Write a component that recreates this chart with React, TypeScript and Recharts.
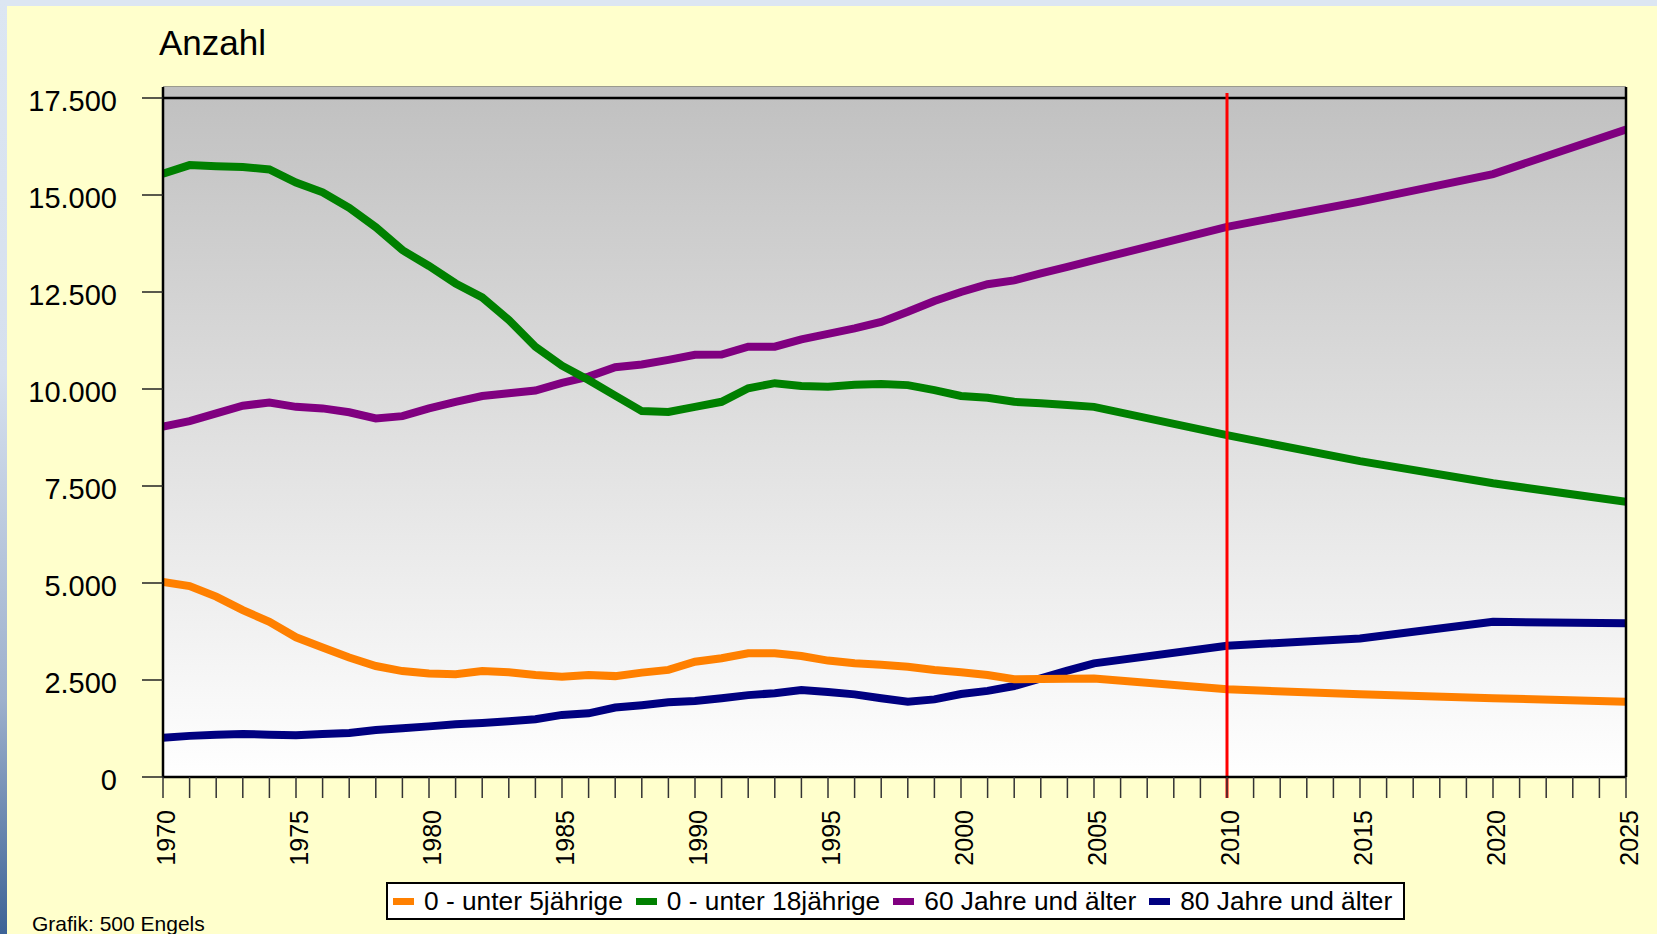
import React from 'react';
import { LineChart, Line, XAxis, YAxis, CartesianGrid, ReferenceLine, ReferenceArea } from 'recharts';

const years = [1970, 1971, 1972, 1973, 1974, 1975, 1976, 1977, 1978, 1979, 1980, 1981, 1982, 1983, 1984, 1985, 1986, 1987, 1988, 1989, 1990, 1991, 1992, 1993, 1994, 1995, 1996, 1997, 1998, 1999, 2000, 2001, 2002, 2003, 2004, 2005, 2010, 2015, 2020, 2025];

const under5 = [5030, 4920, 4650, 4300, 4000, 3600, 3340, 3080, 2860, 2730, 2670, 2650, 2730, 2700, 2630, 2585, 2630, 2600, 2690, 2760, 2970, 3060, 3190, 3190, 3120, 3000, 2930, 2890, 2840, 2760, 2700, 2630, 2520, 2525, 2535, 2540, 2260, 2130, 2030, 1940];

const under18 = [15550, 15770, 15740, 15720, 15660, 15320, 15070, 14670, 14170, 13580, 13170, 12720, 12360, 11780, 11090, 10600, 10230, 9830, 9430, 9410, 9540, 9670, 10020, 10150, 10080, 10060, 10110, 10130, 10100, 9970, 9820, 9775, 9670, 9630, 9590, 9540, 8810, 8140, 7570, 7090];

const over60 = [9030, 9170, 9370, 9570, 9650, 9540, 9500, 9400, 9240, 9300, 9500, 9670, 9820, 9890, 9960, 10160, 10320, 10560, 10630, 10750, 10880, 10890, 11090, 11090, 11280, 11420, 11560, 11730, 11990, 12270, 12500, 12700, 12800, 12980, 13150, 13320, 14180, 14830, 15540, 16690];

const over80 = [1010, 1060, 1090, 1110, 1090, 1075, 1110, 1135, 1210, 1255, 1305, 1360, 1390, 1435, 1490, 1600, 1640, 1790, 1850, 1925, 1960, 2030, 2110, 2160, 2240, 2190, 2130, 2030, 1940, 2000, 2140, 2220, 2345, 2540, 2740, 2930, 3380, 3570, 4000, 3960];

const yTicks = [0, 2500, 5000, 7500, 10000, 12500, 15000, 17500];
const xTicks = [1970, 1971, 1972, 1973, 1974, 1975, 1976, 1977, 1978, 1979, 1980, 1981, 1982, 1983, 1984, 1985, 1986, 1987, 1988, 1989, 1990, 1991, 1992, 1993, 1994, 1995, 1996, 1997, 1998, 1999, 2000, 2001, 2002, 2003, 2004, 2005, 2006, 2007, 2008, 2009, 2010, 2011, 2012, 2013, 2014, 2015, 2016, 2017, 2018, 2019, 2020, 2021, 2022, 2023, 2024, 2025];
const xLabelYears = [1970, 1975, 1980, 1985, 1990, 1995, 2000, 2005, 2010, 2015, 2020, 2025];
const markerYear = 2010;
const xMin = 1970;
const xMax = 2025;
const yMax = 17500;

const seriesKeys = ['u5', 'u18', 'o60', 'o80'];
const seriesNames = ['0 - unter 5jährige', '0 - unter 18jährige', '60 Jahre und älter', '80 Jahre und älter'];
const seriesColors = ['#FF8000', '#008000', '#800080', '#000080'];

const title = 'Anzahl';
const credit = 'Grafik: 500 Engels';

const data = years.map((year, i) => ({
  year,
  u5: under5[i],
  u18: under18[i],
  o60: over60[i],
  o80: over80[i],
}));

const FONT = "'Liberation Sans', Arial, Helvetica, sans-serif";

// layout (pixels)
const W = 1657;
const H = 934;
const PLOT_LEFT = 163;
const PLOT_RIGHT = 1626;
const PLOT_TOP = 87;
const PLOT_BOTTOM = 777;
const TOP_BAND = 11; // grey band of the plot area above the top border

const PANEL = '#FFFFCC';

const fmt = (v: number) => String(v).replace(/\B(?=(\d{3})+(?!\d))/g, '.');

const YTick = (props: any) => {
  const { x, y, payload } = props;
  return (
    <text x={x} y={y + 13} textAnchor="end" fontSize={29} fill="#000" fontFamily={FONT}>
      {fmt(payload.value)}
    </text>
  );
};

const XTick = (props: any) => {
  const { x, y, payload } = props;
  if (!xLabelYears.includes(payload.value)) return <g />;
  const bx = x + 12;
  return (
    <text
      x={bx}
      y={y}
      transform={`rotate(-90 ${bx} ${y})`}
      textAnchor="end"
      fontSize={25}
      fill="#000"
      fontFamily={FONT}
    >
      {payload.value}
    </text>
  );
};

const RedLine = (props: any) => {
  const { x1, y1, x2, y2 } = props;
  const top = Math.min(y1, y2);
  const bottom = Math.max(y1, y2);
  return <line x1={x1} y1={top + 6} x2={x2} y2={bottom + 21} stroke="#FF0000" strokeWidth={3} />;
};

const BorderLine = (props: any) => {
  const { x1, y1, x2, y2 } = props;
  return <line x1={x1} y1={y1} x2={x2} y2={y2} stroke="#000" strokeWidth={2.5} />;
};

export default function App() {
  const drawOrder = [3, 2, 1, 0];
  return (
    <div
      style={{
        position: 'absolute',
        left: 0,
        top: 0,
        width: W,
        height: H,
        overflow: 'hidden',
        background: '#DCE6F2',
        fontFamily: FONT,
      }}
    >
      <style>{'html,body{margin:0;padding:0;overflow:hidden;}'}</style>
      <div
        style={{
          position: 'absolute',
          left: 0,
          top: 0,
          width: 7,
          height: H,
          background: 'linear-gradient(to bottom, #DCE6F2 0%, #D6E0EE 40%, #9DB0CC 75%, #3D6396 100%)',
        }}
      />
      <div
        style={{
          position: 'absolute',
          left: 7,
          top: 6,
          width: W - 7,
          height: H - 6,
          background: PANEL,
        }}
      />
      <div style={{ position: 'absolute', left: 0, top: 0, width: W, height: H }}>
        <LineChart
          width={W}
          height={H}
          data={data}
          margin={{ top: PLOT_TOP, right: W - PLOT_RIGHT, bottom: 57, left: 0 }}
        >
          <defs>
            <linearGradient id="plotBg" x1="0" y1="0" x2="0" y2="1">
              <stop offset="0" stopColor="#C0C0C0" />
              <stop offset="1" stopColor="#FFFFFF" />
            </linearGradient>
          </defs>
          <XAxis
            dataKey="year"
            type="number"
            domain={[xMin, xMax]}
            ticks={xTicks}
            interval={0}
            tickSize={21}
            tickMargin={12}
            height={100}
            tick={<XTick />}
            tickLine={{ stroke: '#333', strokeWidth: 1.5 }}
            axisLine={{ stroke: '#000', strokeWidth: 2.5 }}
            allowDecimals={false}
            allowDataOverflow
          />
          <YAxis
            type="number"
            domain={[0, yMax]}
            ticks={yTicks}
            interval={0}
            width={PLOT_LEFT}
            tickSize={21}
            tickMargin={25}
            padding={{ top: TOP_BAND }}
            tick={<YTick />}
            tickLine={{ stroke: '#222', strokeWidth: 1.5 }}
            axisLine={{ stroke: '#000', strokeWidth: 2.5 }}
            allowDataOverflow
          />
          <ReferenceArea
            x1={xMin}
            x2={xMax}
            fill="url(#plotBg)"
            fillOpacity={1}
            stroke="none"
            ifOverflow="visible"
            shape={(p: any) => (
              <rect
                x={p.x}
                y={PLOT_TOP}
                width={p.width}
                height={PLOT_BOTTOM - PLOT_TOP}
                fill="url(#plotBg)"
              />
            )}
          />
          <CartesianGrid vertical={false} stroke="#7A7A7A" strokeWidth={1.5} fill="none" />
          {drawOrder.map((i) => (
            <Line
              key={seriesKeys[i]}
              type="linear"
              dataKey={seriesKeys[i]}
              name={seriesNames[i]}
              stroke={seriesColors[i]}
              strokeWidth={8}
              dot={false}
              activeDot={false}
              isAnimationActive={false}
            />
          ))}
          <ReferenceLine y={yMax} ifOverflow="visible" shape={<BorderLine />} />
          <ReferenceLine x={xMax} ifOverflow="visible" shape={<BorderLine />} />
          <ReferenceLine x={markerYear} ifOverflow="visible" shape={<RedLine />} />
        </LineChart>
      </div>
      {/* panel colour to the right of the plot area */}
      <div
        style={{
          position: 'absolute',
          left: PLOT_RIGHT + 2,
          top: 6,
          width: W - PLOT_RIGHT - 2,
          height: PLOT_BOTTOM + 15,
          background: PANEL,
        }}
      />
      <div
        style={{
          position: 'absolute',
          left: 159,
          top: 21,
          fontSize: 35,
          lineHeight: '44px',
          color: '#000',
          whiteSpace: 'nowrap',
        }}
      >
        {title}
      </div>
      <div
        style={{
          position: 'absolute',
          left: 386,
          top: 882,
          width: 1019,
          height: 38,
          boxSizing: 'border-box',
          border: '2px solid #000',
          background: '#FFFFFF',
          display: 'flex',
          alignItems: 'center',
          paddingLeft: 5,
          whiteSpace: 'nowrap',
        }}
      >
        {seriesNames.map((name, i) => (
          <div key={name} style={{ display: 'flex', alignItems: 'center', marginRight: 13 }}>
            <div style={{ width: 21, height: 7, background: seriesColors[i], marginRight: 10 }} />
            <span style={{ fontSize: 26.3, lineHeight: '30px', color: '#000' }}>{name}</span>
          </div>
        ))}
      </div>
      <div
        style={{
          position: 'absolute',
          left: 32,
          top: 912,
          fontSize: 21,
          lineHeight: '24px',
          color: '#000',
          whiteSpace: 'nowrap',
        }}
      >
        {credit}
      </div>
    </div>
  );
}
